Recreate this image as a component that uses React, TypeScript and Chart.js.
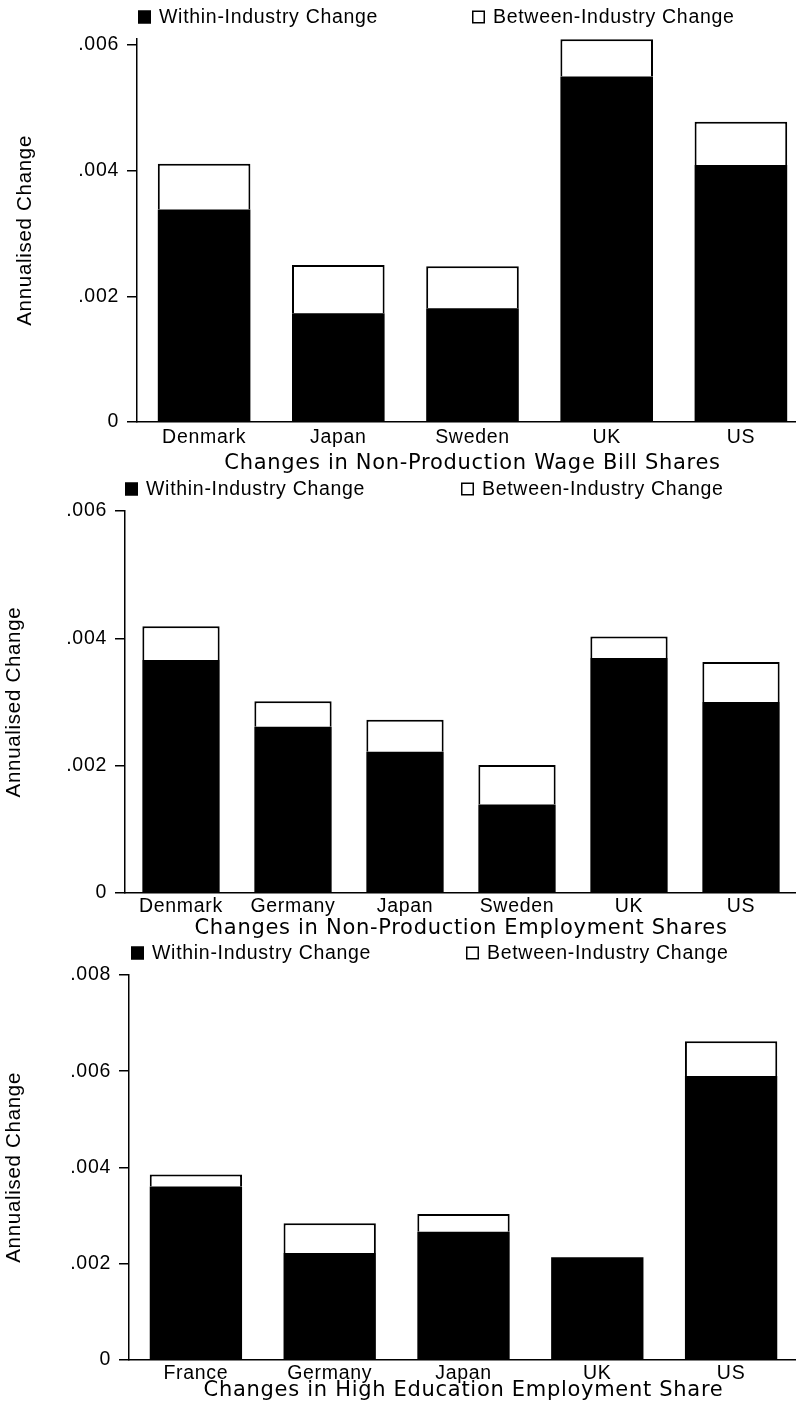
import React, { useEffect, useRef } from 'react';
import { Chart, registerables } from 'chart.js';

Chart.register(...registerables);

// ---------- data ----------
const seriesLabels = ['Within-Industry Change', 'Between-Industry Change'];

const wageCountries = ['Denmark', 'Japan', 'Sweden', 'UK', 'US'];
const wageWithin = [0.00338, 0.00173, 0.00181, 0.0055, 0.00409];
const wageBetween = [0.00073, 0.00077, 0.00067, 0.00059, 0.00069];
const wageTicks = [0, 0.002, 0.004, 0.006];

const empCountries = ['Denmark', 'Germany', 'Japan', 'Sweden', 'UK', 'US'];
const empWithin = [0.00366, 0.00261, 0.00222, 0.00139, 0.00369, 0.003];
const empBetween = [0.00053, 0.0004, 0.0005, 0.00062, 0.00034, 0.00063];
const empTicks = [0, 0.002, 0.004, 0.006];

const eduCountries = ['France', 'Germany', 'Japan', 'UK', 'US'];
const eduWithin = [0.0036, 0.00222, 0.00266, 0.00213, 0.0059];
const eduBetween = [0.00025, 0.00062, 0.00037, 0, 0.00072];
const eduTicks = [0, 0.002, 0.004, 0.006, 0.008];

const yAxisTitle = 'Annualised Change';
const xAxisTitles = [
  'Changes in Non-Production Wage Bill Shares',
  'Changes in Non-Production Employment Shares',
  'Changes in High Education Employment Share',
];

// ---------- plugins ----------
const SPACING = '0.7px';
const SANS = '"Liberation Sans", Arial, sans-serif';
const spacingPlugin = {
  id: 'letterSpacingPlugin',
  beforeUpdate(chart: any) { chart.ctx.letterSpacing = SPACING; },
  beforeLayout(chart: any) { chart.ctx.letterSpacing = SPACING; },
  beforeDraw(chart: any) { chart.ctx.letterSpacing = SPACING; },
};

const legendPlugin = {
  id: 'panelLegend',
  afterDraw(chart: any, _args: any, opts: any) {
    const ctx = chart.ctx;
    ctx.save();
    ctx.letterSpacing = SPACING;
    ctx.font = '19.5px ' + SANS;
    ctx.textBaseline = 'middle';
    ctx.textAlign = 'left';
    const s = 13;
    chart.data.datasets.forEach((ds: any, i: number) => {
      const x = opts.xs[i];
      const y = opts.y;
      ctx.fillStyle = ds.backgroundColor;
      ctx.fillRect(x, y - s / 2, s, s);
      ctx.lineWidth = 1.5;
      ctx.strokeStyle = '#000';
      ctx.strokeRect(x + 0.75, y - s / 2 + 0.75, s - 1.5, s - 1.5);
      ctx.fillStyle = '#000';
      ctx.fillText(ds.label, x + s + 8, y + 1);
    });
    ctx.restore();
  },
};

type PanelProps = {
  top: number;
  width: number;
  height: number;
  yWidth: number;
  padRight: number;
  padTop: number;
  xHeight: number;
  yMax: number;
  ticks: number[];
  labels: string[];
  within: number[];
  between: number[];
  xTitle: string;
  legendY: number;
  legendXs: number[];
  yTitlePad: number;
  xTitlePad: number;
  xTickPad: number;
};

function Panel(p: PanelProps) {
  const ref = useRef<HTMLCanvasElement | null>(null);
  useEffect(() => {
    if (!ref.current) return;
    const chart = new Chart(ref.current, {
      type: 'bar',
      data: {
        labels: p.labels,
        datasets: [
          {
            label: seriesLabels[0],
            data: p.within,
            backgroundColor: '#000',
            borderColor: '#000',
            borderWidth: 0,
            categoryPercentage: 1,
            barPercentage: 0.69,
          },
          {
            label: seriesLabels[1],
            data: p.between,
            backgroundColor: '#fff',
            borderColor: '#000',
            borderWidth: 2,
            borderSkipped: 'start',
            categoryPercentage: 1,
            barPercentage: 0.69,
          },
        ],
      },
      options: {
        responsive: false,
        animation: false,
        devicePixelRatio: 1,
        layout: { padding: { top: p.padTop, right: p.padRight, left: 0, bottom: 0 } },
        plugins: {
          legend: { display: false },
          tooltip: { enabled: false },
          // @ts-ignore
          panelLegend: { y: p.legendY, xs: p.legendXs },
        },
        scales: {
          x: {
            stacked: true,
            offset: true,
            grid: { display: false, drawTicks: false },
            border: { display: true, color: '#000', width: 1.5 },
            ticks: {
              color: '#000',
              padding: p.xTickPad,
              font: { family: SANS, size: 19.5 },
              maxRotation: 0,
              autoSkip: false,
            },
            title: {
              display: true,
              text: p.xTitle,
              color: '#000',
              font: { family: '"DejaVu Sans", sans-serif', size: 21 },
              padding: { top: 0, bottom: p.xTitlePad },
            },
            afterFit: (s: any) => { s.height = p.xHeight; },
          },
          y: {
            stacked: true,
            min: 0,
            max: p.yMax,
            grid: {
              display: true,
              drawOnChartArea: false,
              drawTicks: true,
              tickLength: 10,
              color: '#000',
              lineWidth: 1.5,
            },
            border: { display: true, color: '#000', width: 1.5 },
            afterBuildTicks: (s: any) => { s.ticks = p.ticks.map((v) => ({ value: v })); },
            ticks: {
              color: '#000',
              padding: 8,
              font: { family: SANS, size: 19.5 },
              callback: (v: any) => (Number(v) === 0 ? '0' : Number(v).toFixed(3).replace(/^0/, '')),
            },
            title: {
              display: true,
              text: yAxisTitle,
              color: '#000',
              font: { family: SANS, size: 20.5 },
              padding: { top: p.yTitlePad, bottom: 0 },
            },
            afterFit: (s: any) => { s.width = p.yWidth; },
          },
        },
      },
      plugins: [spacingPlugin, legendPlugin],
    } as any);
    return () => chart.destroy();
  }, []);
  return (
    <canvas
      ref={ref}
      width={p.width}
      height={p.height}
      style={{ position: 'absolute', left: 0, top: p.top, width: p.width, height: p.height, display: 'block' }}
    />
  );
}

export default function App() {
  return (
    <div
      style={{
        position: 'absolute',
        left: 0,
        top: 0,
        width: 796,
        height: 1405,
        overflow: 'hidden',
        background: '#fff',
      }}
    >
      <Panel
        top={0} width={812} height={478} yWidth={137} padRight={4} padTop={38.7} xHeight={56}
        yMax={0.0061} ticks={wageTicks} labels={wageCountries} within={wageWithin} between={wageBetween}
        xTitle={xAxisTitles[0]} legendY={17} legendXs={[138, 472]} yTitlePad={13} xTitlePad={2.2} xTickPad={4}
      />
      <Panel
        top={478} width={800} height={464} yWidth={125} padRight={3} padTop={33} xHeight={49}
        yMax={0.006} ticks={empTicks} labels={empCountries} within={empWithin} between={empBetween}
        xTitle={xAxisTitles[1]} legendY={11} legendXs={[125, 461]} yTitlePad={2} xTitlePad={1.2} xTickPad={2}
      />
      <Panel
        top={942} width={800} height={463} yWidth={129} padRight={2} padTop={33} xHeight={45.3}
        yMax={0.008} ticks={eduTicks} labels={eduCountries} within={eduWithin} between={eduBetween}
        xTitle={xAxisTitles[2]} legendY={11} legendXs={[131, 466]} yTitlePad={2} xTitlePad={2.2} xTickPad={2}
      />
    </div>
  );
}
